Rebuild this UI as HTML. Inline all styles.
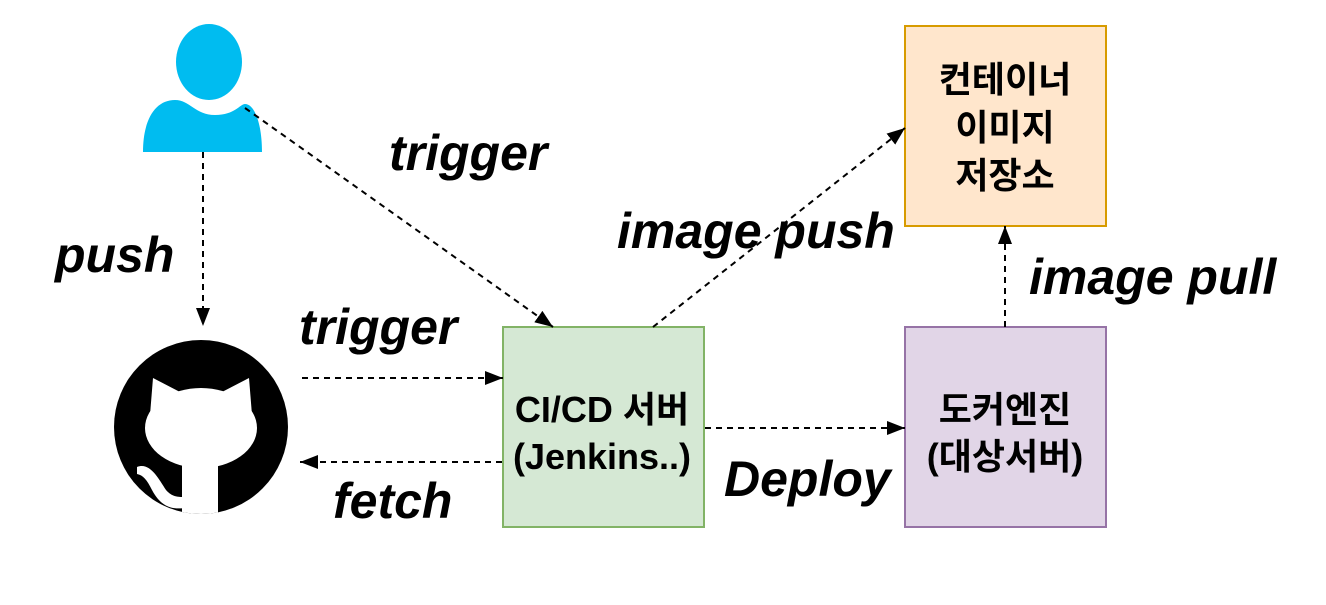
<!DOCTYPE html>
<html><head><meta charset="utf-8"><style>
html,body{margin:0;padding:0;background:#fff;}
svg{display:block}
.lbl{font-family:"Liberation Sans",sans-serif;font-weight:bold;font-style:italic;font-size:50px;fill:#000}
.box{font-family:"Liberation Sans","Noto Sans CJK KR",sans-serif;font-weight:bold;font-size:36px;fill:#000}
</style></head><body>
<svg width="1326" height="605" viewBox="0 0 1326 605" xmlns="http://www.w3.org/2000/svg">
<defs>
<marker id="a" markerWidth="20" markerHeight="16" refX="18" refY="7" orient="auto" markerUnits="userSpaceOnUse"><path d="M0,0 L18,7 L0,14 Z" fill="#000"/></marker>
<clipPath id="c"><circle cx="201" cy="427" r="87"/></clipPath>
</defs>
<rect width="1326" height="605" fill="#fff"/>
<!-- user -->
<ellipse cx="209" cy="62" rx="33" ry="38" fill="#00bcf0"/>
<path d="M143,152 C143,120 155,100 175,100 C190,100 195,115 215,115 C235,115 240,104 245,104 C255,104 262,125 262,152 Z" fill="#00bcf0"/>
<!-- github -->
<circle cx="201" cy="427" r="87" fill="#000"/>
<g clip-path="url(#c)" fill="#fff">
<ellipse cx="201" cy="428" rx="56" ry="40"/>
<path d="M150,415 L153,378 L180,392 Z"/>
<path d="M252,415 L249,378 L222,392 Z"/>
<rect x="182" y="450" width="36" height="80"/>
<path d="M137,467 C150,462 158,478 166,490 C172,497 178,497 184,497 L184,508 C170,510 160,505 152,490 C147,480 143,475 137,474 Z"/>
</g>
<!-- boxes -->
<rect x="905" y="26" width="201" height="200" fill="#ffe6cc" stroke="#d79b00" stroke-width="2"/>
<rect x="503" y="327" width="201" height="200" fill="#d5e8d4" stroke="#82b366" stroke-width="2"/>
<rect x="905" y="327" width="201" height="200" fill="#e1d5e7" stroke="#9673a6" stroke-width="2"/>
<text class="box" text-anchor="middle"><tspan x="1005" y="92">컨테이너</tspan><tspan x="1005" y="140">이미지</tspan><tspan x="1005" y="188">저장소</tspan></text>
<text class="box" text-anchor="middle"><tspan x="602" y="422">CI/CD 서버</tspan><tspan x="602" y="469">(Jenkins..)</tspan></text>
<text class="box" text-anchor="middle"><tspan x="1005" y="422">도커엔진</tspan><tspan x="1005" y="469">(대상서버)</tspan></text>
<!-- arrows -->
<g stroke="#000" stroke-width="2" stroke-dasharray="6,5" fill="none" marker-end="url(#a)">
<line x1="203" y1="152" x2="203" y2="326"/>
<line x1="245" y1="108" x2="553" y2="327"/>
<line x1="302" y1="378" x2="503" y2="378"/>
<line x1="502" y1="462" x2="300" y2="462"/>
<line x1="705" y1="428" x2="905" y2="428"/>
<line x1="653" y1="327" x2="905" y2="128"/>
<line x1="1005" y1="327" x2="1005" y2="226"/>
</g>
<!-- labels -->
<text class="lbl" x="389" y="170">trigger</text>
<text class="lbl" x="55" y="272">push</text>
<text class="lbl" x="299" y="344">trigger</text>
<text class="lbl" x="333" y="518">fetch</text>
<text class="lbl" x="617" y="248">image push</text>
<text class="lbl" x="1029" y="294">image pull</text>
<text class="lbl" x="724" y="496">Deploy</text>
</svg>
</body></html>
